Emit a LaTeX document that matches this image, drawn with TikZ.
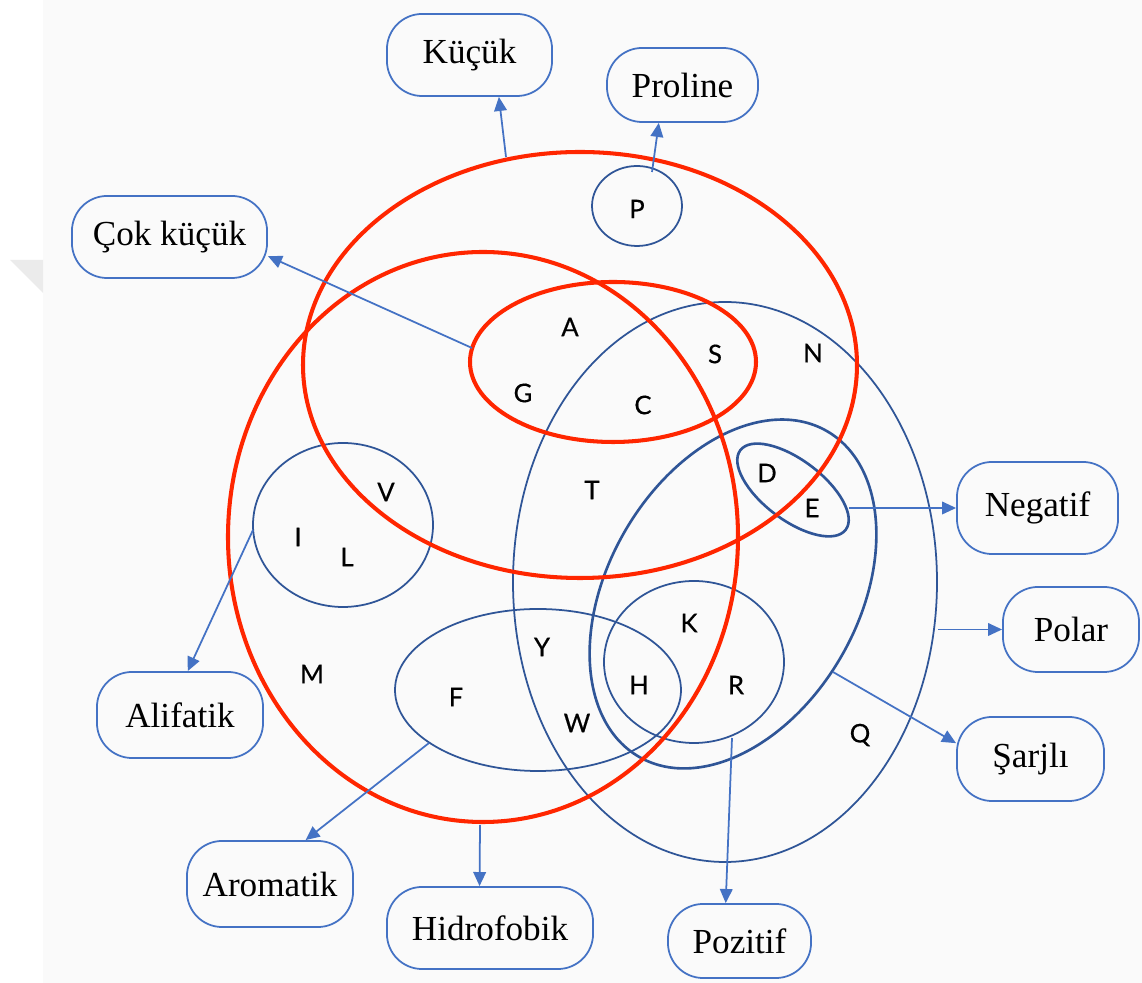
\documentclass[tikz,border=0pt]{standalone}
\usepackage{fontspec}
\setmainfont{Liberation Serif}
\newfontfamily\letterfont[FakeBold=0.5]{Lato}
\usetikzlibrary{arrows.meta}
\definecolor{setred}{RGB}{255,38,0}
\definecolor{setblue}{RGB}{47,85,151}
\definecolor{linkblue}{RGB}{68,114,196}

\begin{document}
\begin{tikzpicture}[x=0.01cm,y=-0.01cm,
  redset/.style={draw=setred,line width=1.15pt},
  blueset/.style={draw=setblue,line width=0.5pt},
  blueheavy/.style={draw=setblue,line width=0.75pt},
  tag/.style={draw=linkblue,line width=0.5pt,rounded corners=10pt,inner sep=0pt,
    font=\fontsize{10}{12}\selectfont},
  aa/.style={font=\letterfont\fontsize{7.3}{8}\selectfont,inner sep=0pt},
  link/.style={draw=linkblue,line width=0.5pt,-{Triangle[length=4pt,width=3.6pt]}}]

\useasboundingbox (0,0) rectangle (1142,983);
% page background
\fill[white] (0,0) rectangle (1142,983);
\fill[black!2] (43,0) rectangle (1142,983);
\fill[black!8] (10,260) -- (43,260) -- (43,293) -- cycle;

% blue sets
\draw[blueset] (725,582) ellipse [x radius=212, y radius=280];          % polar
\draw[blueheavy, rotate around={60:(733,594)}] (733,594) ellipse [x radius=188, y radius=125]; % charged
\draw[blueheavy, rotate around={-37:(793,490)}] (793,490) ellipse [x radius=66, y radius=30];   % negative
\draw[blueset] (343,525) ellipse [x radius=90, y radius=82];            % aliphatic
\draw[blueset] (538,690) ellipse [x radius=143, y radius=81];           % aromatic
\draw[blueset] (694,662) ellipse [x radius=90, y radius=81];            % positive
\draw[blueset] (637,206) ellipse [x radius=45, y radius=40];            % proline

% red sets
\draw[redset] (580,365) ellipse [x radius=277, y radius=213];           % small
\draw[redset] (483,537) ellipse [x radius=255, y radius=285];           % hydrophobic
\draw[redset] (613,362) ellipse [x radius=143, y radius=80];            % tiny

% amino acid letters
\node[aa] (P) at (637,209) {P};
\node[aa] (A) at (570,327) {A};
\node[aa] (G) at (523,393) {G};
\node[aa] (C) at (643,405) {C};
\node[aa] (S) at (715,354) {S};
\node[aa] (N) at (813,353) {N};
\node[aa] (T) at (592,490) {T};
\node[aa] (V) at (386,492) {V};
\node[aa] (I) at (298,537) {I};
\node[aa] (L) at (347,557) {L};
\node[aa] (D) at (767,473) {D};
\node[aa] (E) at (812,508) {E};
\node[aa] (K) at (689,623) {K};
\node[aa] (Y) at (542,647) {Y};
\node[aa] (H) at (639,685) {H};
\node[aa] (R) at (736,685) {R};
\node[aa] (F) at (456,697) {F};
\node[aa] (W) at (577,723) {W};
\node[aa] (M) at (312,674) {M};
\node[aa] (Q) at (860,735) {Q};

% category boxes
\node[tag, minimum width=1.65cm, minimum height=0.82cm] (kucuk) at (469.5,55) {Küçük};
\node[tag, minimum width=1.51cm, minimum height=0.74cm] (proline) at (682.5,85) {Proline};
\node[tag, minimum width=1.95cm, minimum height=0.82cm] (cok) at (169.5,237) {Çok küçük};
\node[tag, minimum width=1.61cm, minimum height=0.92cm] (negatif) at (1037.5,508) {Negatif};
\node[tag, minimum width=1.36cm, minimum height=0.85cm] (polar) at (1071,629.5) {Polar};
\node[tag, minimum width=1.47cm, minimum height=0.84cm] (sarjli) at (1030.5,759) {Şarjlı};
\node[tag, minimum width=1.66cm, minimum height=0.86cm] (alifatik) at (180,715) {Alifatik};
\node[tag, minimum width=1.66cm, minimum height=0.86cm] (aromatik) at (270,884) {Aromatik};
\node[tag, minimum width=2.06cm, minimum height=0.82cm] (hidrofobik) at (490,928) {Hidrofobik};
\node[tag, minimum width=1.43cm, minimum height=0.74cm] (pozitif) at (739.5,941) {Pozitif};

% arrow origins on the set outlines
\coordinate (kS) at (506,157);
\coordinate (pS) at (652,172);
\coordinate (cS) at (472,348);
\coordinate (nS) at (849,508);
\coordinate (poS) at (938,629.5);
\coordinate (sS) at (833,672);
\coordinate (pzS) at (732,738);
\coordinate (hS) at (480,825);
\coordinate (arS) at (429,743);
\coordinate (alS) at (253,530);

\draw[link] (kS) -- (kucuk.-55);
\draw[link] (pS) -- (proline.-122);
\draw[link] (cS) -- (cok.-11);
\draw[link] (nS) -- (negatif.west);
\draw[link] (poS) -- (polar.west);
\draw[link] (sS) -- (sarjli.168);
\draw[link] (pzS) -- (pozitif.110);
\draw[link] (hS) -- (hidrofobik.104);
\draw[link] (arS) -- (aromatik.51);
\draw[link] (alS) -- (alifatik.80);
\end{tikzpicture}
\end{document}
